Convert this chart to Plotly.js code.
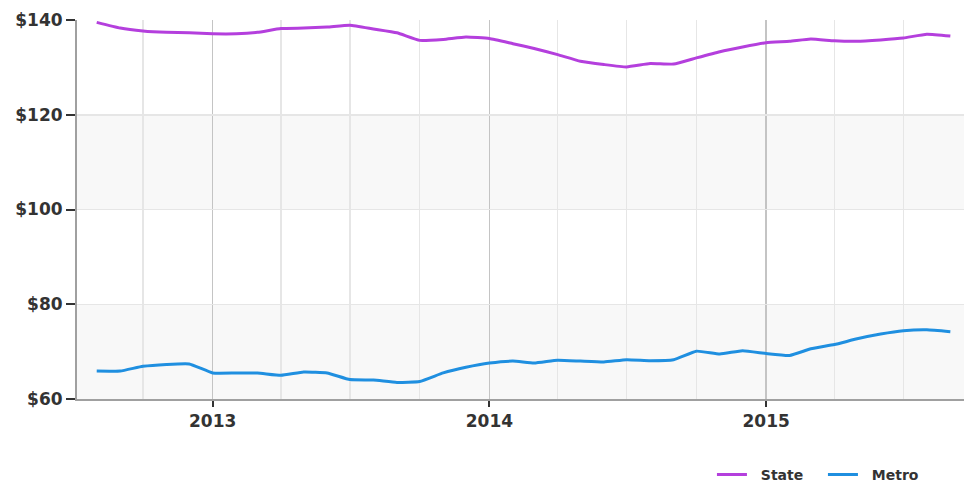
<!DOCTYPE html>
<html>
<head>
<meta charset="utf-8">
<script src="https://cdn.plot.ly/plotly-3.0.1.min.js"></script>
<style>html,body{margin:0;padding:0;background:#fff;}#chart{width:966px;height:483px;}</style>
</head>
<body>
<div id="chart"></div>
<script>
const months = ["2012-08-01","2012-09-01","2012-10-01","2012-11-01","2012-12-01",
"2013-01-01","2013-02-01","2013-03-01","2013-04-01","2013-05-01","2013-06-01","2013-07-01","2013-08-01","2013-09-01","2013-10-01","2013-11-01","2013-12-01",
"2014-01-01","2014-02-01","2014-03-01","2014-04-01","2014-05-01","2014-06-01","2014-07-01","2014-08-01","2014-09-01","2014-10-01","2014-11-01","2014-12-01",
"2015-01-01","2015-02-01","2015-03-01","2015-04-01","2015-05-01","2015-06-01","2015-07-01","2015-08-01","2015-09-01"];
const stateValues = [139.5,138.3,137.7,137.4,137.3,
137.1,137.1,137.4,138.2,138.3,138.5,138.9,138.1,137.3,135.7,135.9,136.4,
136.1,135.0,134.0,132.7,131.3,130.6,130.1,130.8,130.7,132.0,133.3,134.3,
135.2,135.5,136.0,135.6,135.5,135.8,136.2,137.0,136.6];
const metroValues = [65.9,65.9,66.9,67.3,67.4,
65.5,65.5,65.5,65.0,65.7,65.5,64.1,64.0,63.5,63.7,65.5,66.7,
67.6,68.0,67.6,68.2,68.0,67.8,68.3,68.1,68.3,70.1,69.5,70.2,
69.6,69.2,70.6,71.5,72.7,73.7,74.4,74.6,74.2];
const seriesNames = ["State","Metro"];
const yTicks = [60,80,100,120,140];
const bandRanges = [[60,80],[100,120]];

const fam = "DejaVu Sans, Verdana, sans-serif";
const font = {family:fam, size:17, color:"#333"};
const legendLabel = n => "\u00a0\u00a0<b>" + n + "</b>";

const traces = [
  {x:months, y:stateValues, name:legendLabel(seriesNames[0]), type:"scatter", mode:"lines",
   line:{color:"#b43fdd", width:3, shape:"spline", smoothing:0.4}, hoverinfo:"skip"},
  {x:months, y:metroValues, name:legendLabel(seriesNames[1]), type:"scatter", mode:"lines",
   line:{color:"#1f8fe0", width:3, shape:"spline", smoothing:0.4}, hoverinfo:"skip"}
];

const shapes = bandRanges.map(r => ({type:"rect", xref:"paper", yref:"y", x0:0, x1:1, y0:r[0], y1:r[1],
  fillcolor:"#f8f8f8", line:{width:0}, layer:"below"}));

const layout = {
  width:966, height:483,
  margin:{l:77, r:2, t:20, b:84},
  paper_bgcolor:"#fff", plot_bgcolor:"rgba(0,0,0,0)",
  font:font,
  showlegend:true,
  legend:{orientation:"h", xref:"container", yref:"container", x:0.737, xanchor:"left", y:0.017, yanchor:"middle",
    font:{family:fam, size:14, color:"#333"}, itemwidth:30, entrywidth:66, bgcolor:"rgba(0,0,0,0)"},
  shapes:shapes,
  xaxis:{type:"date", range:["2012-07-06","2015-09-19"], tick0:"2013-01-01", dtick:"M12",
    tickformat:"<b>%Y</b>", showgrid:true, gridcolor:"#c4c4c4", gridwidth:1.5,
    minor:{dtick:"M3", tick0:"2013-01-01", showgrid:true, gridcolor:"#e6e6e6", gridwidth:1.5},
    showline:true, linecolor:"#a0a0a0", linewidth:2,
    ticks:"outside", ticklen:6, tickwidth:2, tickcolor:"#333",
    tickfont:{family:fam, size:17, color:"#333"}, zeroline:false, fixedrange:true, automargin:false},
  yaxis:{range:[60,140], tickvals:yTicks, ticktext:yTicks.map(v=>"<b>$"+v+"</b>"),
    showgrid:true, gridcolor:"#e6e6e6", gridwidth:1.5,
    showline:true, linecolor:"#a0a0a0", linewidth:2,
    ticks:"outside", ticklen:9, tickwidth:2, tickcolor:"#333",
    tickfont:{family:fam, size:17, color:"#333"}, zeroline:false, fixedrange:true, automargin:false}
};

Plotly.newPlot("chart", traces, layout, {displayModeBar:false, staticPlot:true});
</script>
</body>
</html>
